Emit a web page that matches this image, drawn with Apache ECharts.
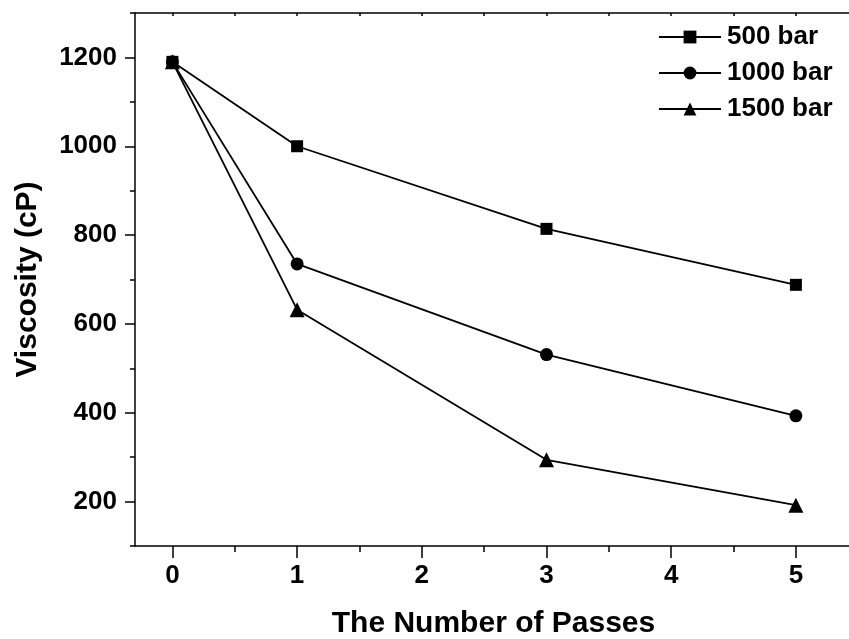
<!DOCTYPE html>
<html>
<head>
<meta charset="utf-8">
<script src="https://cdn.jsdelivr.net/npm/echarts@6/dist/echarts.min.js"></script>
<style>
html,body{margin:0;padding:0;background:#fff;}
#chart{width:849px;height:639px;}
</style>
</head>
<body>
<div id="chart"></div>
<script>
const passes = [0, 1, 3, 5];
const seriesNames = ['500 bar', '1000 bar', '1500 bar'];
const bar500 = [1190, 1000, 814, 688];
const bar1000 = [1190, 735, 531, 393];
const bar1500 = [1190, 632, 294, 192];
const xMajorTicks = [0, 1, 2, 3, 4, 5];
const xMinorTicks = [0.5, 1.5, 2.5, 3.5, 4.5];
const yMajorTicks = [200, 400, 600, 800, 1000, 1200];
const yMinorTicks = [100, 300, 500, 700, 900, 1100, 1300];

const FONT = "'Liberation Sans', Arial, sans-serif";
const black = '#000';

function pairs(vals) { return passes.map((p, i) => [p, vals[i]]); }

const chart = echarts.init(document.getElementById('chart'));
const lineStyle = {color: black, width: 1.8};
const commonSeries = {
  type: 'line', xAxisIndex: 0, yAxisIndex: 0,
  lineStyle: lineStyle, itemStyle: {color: black},
  animation: false, z: 5
};
chart.setOption({
  animation: false,
  backgroundColor: '#fff',
  grid: {left: 135, top: 13, bottom: 93, right: -3, containLabel: false, outerBoundsMode: 'none'},
  legend: {
    orient: 'vertical', left: 653, top: 19,
    itemWidth: 62, itemHeight: 16, itemGap: 10,
    data: seriesNames,
    textStyle: {fontFamily: FONT, fontWeight: 'bold', fontSize: 26, color: black, padding: [0, 0, 0, 1]}
  },
  xAxis: [
    {
      type: 'value', min: -0.3, max: 5.45, position: 'bottom',
      name: 'The Number of Passes', nameLocation: 'middle', nameGap: 63,
      nameTextStyle: {fontFamily: FONT, fontWeight: 'bold', fontSize: 30, color: black},
      axisLine: {show: true, onZero: false, lineStyle: {color: black, width: 1.5}},
      axisTick: {show: true, inside: false, length: 12, customValues: xMajorTicks, lineStyle: {color: black, width: 1.5}},
      axisLabel: {show: true, customValues: xMajorTicks, margin: 17, fontFamily: FONT, fontWeight: 'bold', fontSize: 26, color: black,
        formatter: v => String(v)},
      splitLine: {show: false}
    },
    {
      type: 'value', min: -0.3, max: 5.45, position: 'bottom',
      axisLine: {show: false, onZero: false},
      axisTick: {show: true, inside: false, length: 6, customValues: xMinorTicks, lineStyle: {color: black, width: 1.5}},
      axisLabel: {show: false},
      splitLine: {show: false}
    },
    {
      type: 'value', min: -0.3, max: 5.45, position: 'top',
      axisLine: {show: true, onZero: false, lineStyle: {color: black, width: 1.5}},
      axisTick: {show: true, inside: true, length: 3, customValues: xMajorTicks.concat(xMinorTicks), lineStyle: {color: black, width: 1.5}},
      axisLabel: {show: false},
      splitLine: {show: false}
    }
  ],
  yAxis: [
    {
      type: 'value', min: 100, max: 1300, position: 'left',
      name: 'Viscosity (cP)', nameLocation: 'middle', nameGap: 92,
      nameTextStyle: {fontFamily: FONT, fontWeight: 'bold', fontSize: 30, color: black},
      axisLine: {show: true, onZero: false, lineStyle: {color: black, width: 1.5}},
      axisTick: {show: true, inside: false, length: 10, customValues: yMajorTicks, lineStyle: {color: black, width: 1.5}},
      axisLabel: {show: true, customValues: yMajorTicks, margin: 18, fontFamily: FONT, fontWeight: 'bold', fontSize: 26, color: black,
        formatter: v => String(v)},
      splitLine: {show: false}
    },
    {
      type: 'value', min: 100, max: 1300, position: 'left',
      axisLine: {show: false, onZero: false},
      axisTick: {show: true, inside: false, length: 5, customValues: yMinorTicks, lineStyle: {color: black, width: 1.5}},
      axisLabel: {show: false},
      splitLine: {show: false}
    }
  ],
  series: [
    Object.assign({}, commonSeries, {name: seriesNames[0], data: pairs(bar500), symbol: 'rect', symbolSize: 12}),
    Object.assign({}, commonSeries, {name: seriesNames[1], data: pairs(bar1000), symbol: 'circle', symbolSize: 13}),
    Object.assign({}, commonSeries, {name: seriesNames[2], data: pairs(bar1500), symbol: 'triangle', symbolSize: 15})
  ]
});
</script>
</body>
</html>
